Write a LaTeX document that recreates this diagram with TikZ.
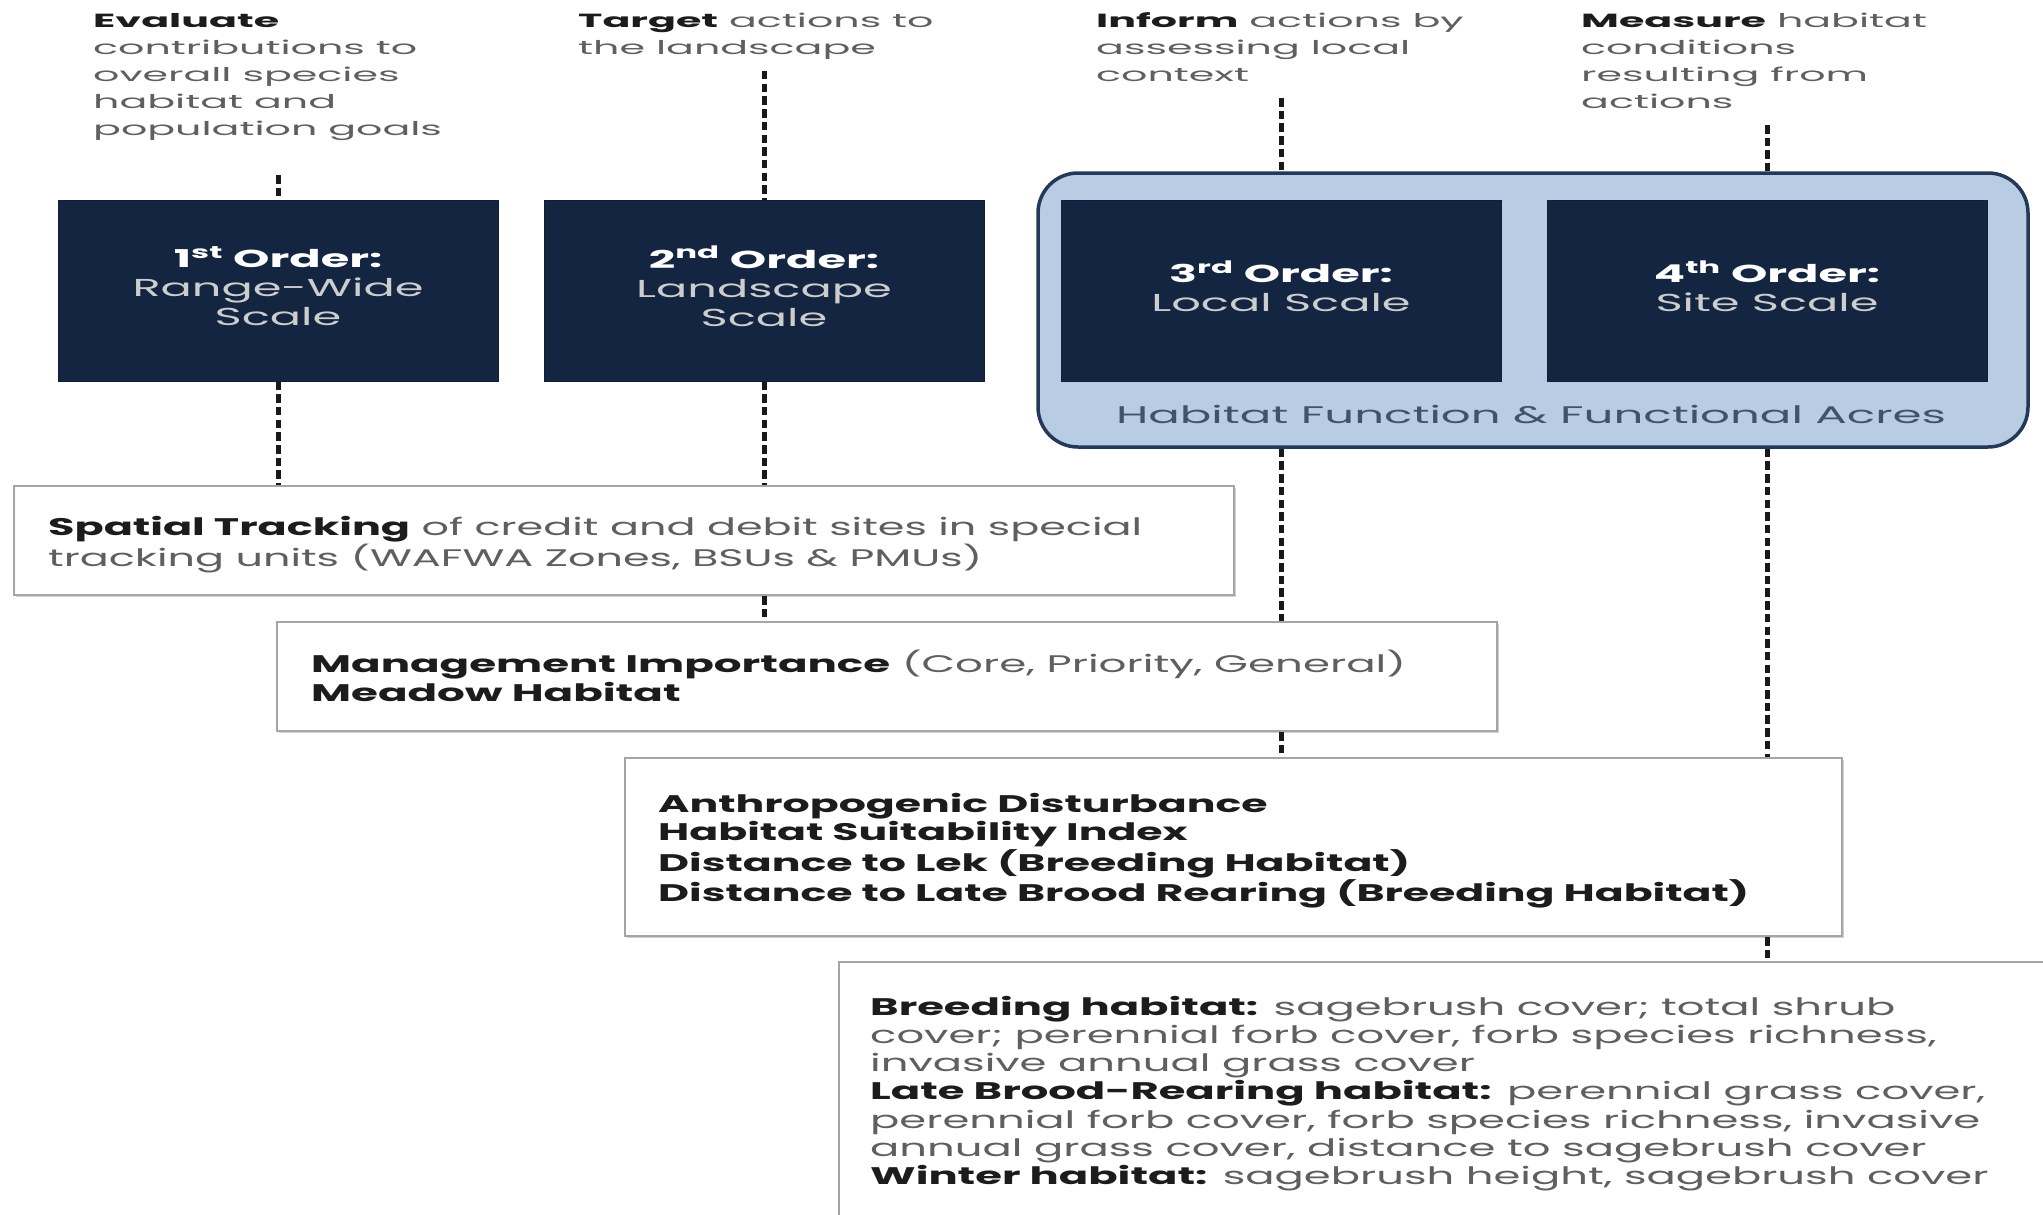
\documentclass[tikz,border=0pt]{standalone}
\usepackage{fontspec}
\setmainfont{Poppins}
\usepackage{graphicx}
\usetikzlibrary{shadows}
\definecolor{navy}{RGB}{19,37,64}
\definecolor{lblue}{RGB}{184,204,228}
\definecolor{cborder}{RGB}{36,56,88}
\definecolor{greytext}{RGB}{95,95,95}
\definecolor{boldtext}{RGB}{28,28,28}
\definecolor{hfa}{RGB}{66,82,104}
\definecolor{boxgrey}{RGB}{165,165,165}
\definecolor{titlegrey}{RGB}{205,205,205}
\newlength\tmpw
\newcommand\calib[3]{\settowidth{\tmpw}{#2}\pgfmathsetmacro#1{#3/\tmpw}}
\newcommand\fA{\fontsize{19}{27}\selectfont}
\newcommand\fB{\fontsize{24.5}{29}\selectfont}
\newcommand\fC{\fontsize{24}{29}\selectfont}
\newcommand\fD{\fontsize{24}{29}\selectfont}
\newcommand\fG{\fontsize{24}{28.3}\selectfont}
\newcommand\fF{\fontsize{24}{28.7}\selectfont}
\newcommand\bt[1]{\textbf{\color{boldtext}#1}}
\newcommand\wt[1]{\textbf{\color{white}#1}}
\newcommand\lines[2]{\scalebox{#1}[1]{\begin{tabular}[t]{@{}l@{}}#2\end{tabular}}}
\newcommand\clines[2]{\scalebox{#1}[1]{\begin{tabular}{@{}c@{}}#2\end{tabular}}}
\tikzset{
  navybox/.style={fill=navy, draw=navy!85!black, line width=1pt, minimum width=440pt, minimum height=181pt, inner sep=0pt, text=titlegrey, font=\fB},
  whitebox/.style={fill=white, draw=boxgrey, line width=2.5pt, inner sep=0pt, drop shadow={shadow xshift=2pt, shadow yshift=-2pt, fill=black, opacity=0.18}},
  container/.style={fill=lblue, draw=cborder, line width=3.5pt, rounded corners=40pt, inner sep=0pt},
  txt/.style={anchor=base west, inner sep=0pt, text=greytext},
  dashline/.style={draw=black!90, line width=5pt, dash pattern=on 8.5pt off 4.2pt}
}
\begin{document}
% calibration of horizontal stretch per text group
\calib{\sA}{\fA contributions to}{324}%
\calib{\sB}{\fB Range-Wide}{291}%
\calib{\sC}{\fC Habitat Function \& Functional Acres}{830}%
\calib{\sD}{\fD \textbf{Spatial Tracking} of credit and debit sites in special}{1094}%
\calib{\sE}{\fD \textbf{Management Importance} (Core, Priority, General)}{1095}%
\calib{\sF}{\fF \textbf{Distance to Late Brood Rearing (Breeding Habitat)}}{1091}%
\calib{\sG}{\fG perennial forb cover, forb species richness, invasive}{1110}%
\begin{tikzpicture}[x=1pt,y=-1pt]
\useasboundingbox (0,0) rectangle (2043,1215);
\clip (0,0) rectangle (2043,1215);
\fill[white] (0,0) rectangle (2043,1215);

% top labels
\node[txt, font=\fA] (lab1) at (93,28) {\lines{\sA}{\bt{Evaluate}\\ contributions to\\ overall species\\ habitat and\\ population goals}};
\node[txt, font=\fA] (lab2) at (578,28) {\lines{\sA}{\bt{Target} actions to\\ the landscape}};
\node[txt, font=\fA] (lab3) at (1096,28) {\lines{\sA}{\bt{Inform} actions by\\ assessing local\\ context}};
\node[txt, font=\fA] (lab4) at (1581,28) {\lines{\sA}{\bt{Measure} habitat\\ conditions\\ resulting from\\ actions}};

% container
\node[container, minimum width=990pt, minimum height=274pt] (cont) at (1533,310) {};
\node[anchor=base, inner sep=0pt, text=hfa, font=\fC] (hfa) at (1531,423) {\scalebox{\sC}[1]{Habitat Function \& Functional Acres}};

% order boxes
\node[navybox] (b1) at (278,290.5) {\clines{\sB}{\wt{1\textsuperscript{st} Order:}\\ Range-Wide\\ Scale}};
\node[navybox] (b2) at (764,290.5) {\clines{\sB}{\wt{2\textsuperscript{nd} Order:}\\ Landscape\\ Scale}};
\node[navybox] (b3) at (1281,290.5) {\clines{\sB}{\wt{3\textsuperscript{rd} Order:}\\ Local Scale}};
\node[navybox] (b4) at (1767,290.5) {\clines{\sB}{\wt{4\textsuperscript{th} Order:}\\ Site Scale}};

% white boxes
\node[whitebox, minimum width=1220pt, minimum height=109pt] (sp) at (624,540.5) {};
\node[whitebox, minimum width=1220pt, minimum height=109pt] (mg) at (887,676.5) {};
\node[whitebox, minimum width=1217pt, minimum height=178pt] (an) at (1233.5,847) {};
\node[whitebox, minimum width=1250pt, minimum height=300pt] (br) at (1464,1112) {};

\node[txt, font=\fD] (sptxt) at (48,535) {\lines{\sD}{\bt{Spatial Tracking} of credit and debit sites in special\\ tracking units (WAFWA Zones, BSUs \& PMUs)}};
\node[txt, font=\fD] (mgtxt) at (311,672) {\lines{\sE}{\bt{Management Importance} (Core, Priority, General)\\ \bt{Meadow Habitat}}};
\node[txt, font=\fF] (antxt) at (658,812) {\lines{\sF}{\bt{Anthropogenic Disturbance}\\ \bt{Habitat Suitability Index}\\ \bt{Distance to Lek (Breeding Habitat)}\\ \bt{Distance to Late Brood Rearing (Breeding Habitat)}}};
\node[txt, font=\fG] (brtxt) at (870,1015) {\lines{\sG}{\bt{Breeding habitat:} sagebrush cover; total shrub\\ cover; perennial forb cover, forb species richness,\\ invasive annual grass cover\\ \bt{Late Brood-Rearing habitat:} perennial grass cover,\\ perennial forb cover, forb species richness, invasive\\ annual grass cover, distance to sagebrush cover\\ \bt{Winter habitat:} sagebrush height, sagebrush cover}};

% connectors
\coordinate (t1) at (278,175);
\coordinate (t2) at (764,71);
\coordinate (t3) at (1281,98);
\coordinate (t4) at (1767,125);
\draw[dashline] (t1) -- (b1.north);
\draw[dashline] (b1.south) -- (b1.south |- sp.north);
\draw[dashline] (t2) -- (b2.north);
\draw[dashline] (b2.south) -- (b2.south |- sp.north);
\draw[dashline] (b2.south |- sp.south) -- (b2.south |- mg.north);
\draw[dashline] (t3) -- (b3.north |- cont.north);
\draw[dashline] (b3.south |- cont.south) -- (b3.south |- mg.north);
\draw[dashline] (b3.south |- mg.south) -- (b3.south |- an.north);
\draw[dashline] (t4) -- (b4.north |- cont.north);
\draw[dashline] (b4.south |- cont.south) -- (b4.south |- an.north);
\draw[dashline] (b4.south |- an.south) -- (b4.south |- br.north);
\end{tikzpicture}
\end{document}
